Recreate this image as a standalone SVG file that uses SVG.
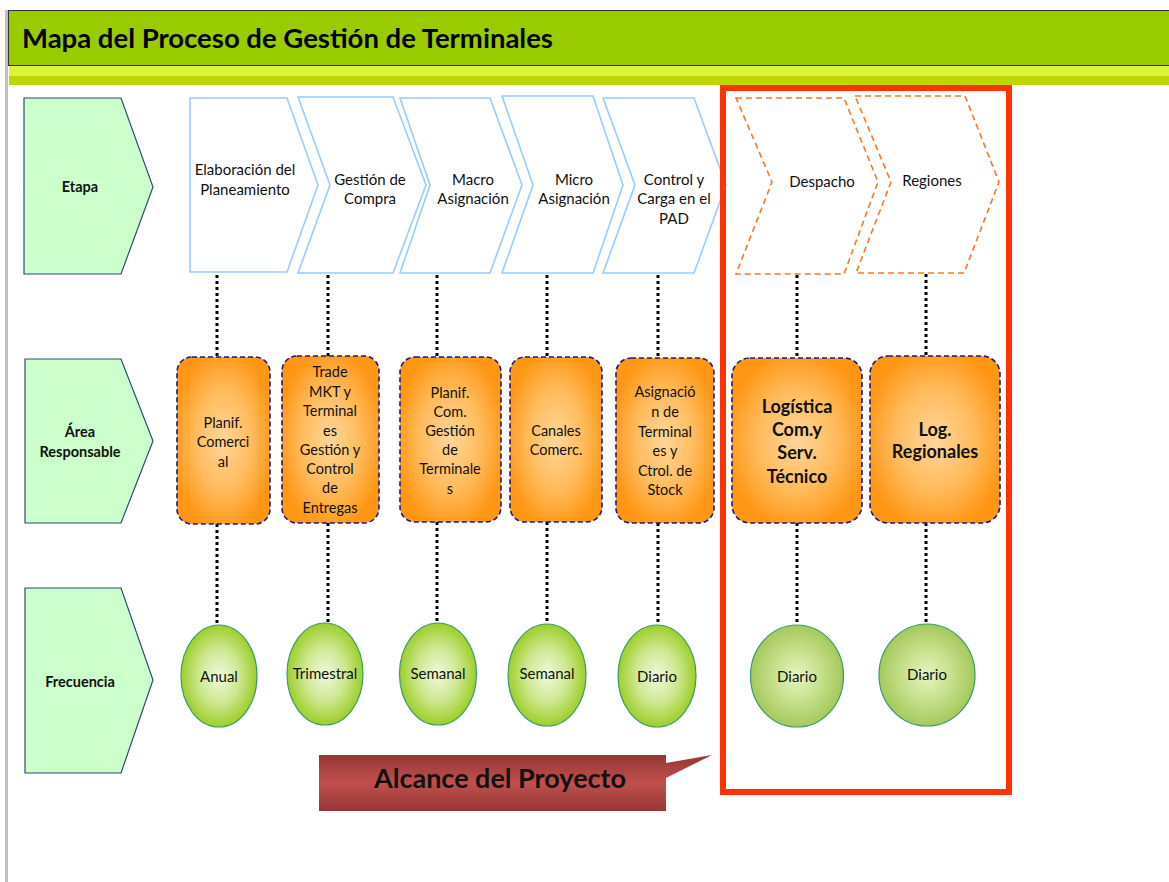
<svg xmlns="http://www.w3.org/2000/svg" width="1169" height="882" viewBox="0 0 1169 882">
<defs>
<style>
.t{font-family:Lato,"Liberation Sans",sans-serif;fill:#111;text-anchor:middle}
.s14{font-size:14.5px}
.c15{font-size:15px}
.b{font-weight:bold}
.lbl{fill:#ccffcc;stroke:#2f4a7a;stroke-width:1.2}
.blue{fill:#fff;stroke:#99ccff;stroke-width:1.6}
.odash{fill:#fff;stroke:#ff7722;stroke-width:1.6;stroke-dasharray:6 4}
.ob{fill:url(#og);stroke:#1a1a80;stroke-width:1.6;stroke-dasharray:5 3}
.ell{fill:url(#gg);stroke:#3a9a6a;stroke-width:1.2}
.ell2{fill:url(#gg2);stroke:#3a9a6a;stroke-width:1.2}
.dot{stroke:#000;stroke-width:3;stroke-dasharray:3 3;fill:none}
</style>
<radialGradient id="og" cx="50%" cy="50%" r="55%">
<stop offset="0" stop-color="#ffd699"/>
<stop offset="0.55" stop-color="#ffbb5c"/>
<stop offset="1" stop-color="#ff9614"/>
</radialGradient>
<radialGradient id="gg" cx="50%" cy="50%" r="52%">
<stop offset="0" stop-color="#f0f9dc"/>
<stop offset="0.5" stop-color="#cfe893"/>
<stop offset="1" stop-color="#99cc22"/>
</radialGradient>
<radialGradient id="gg2" cx="50%" cy="50%" r="52%">
<stop offset="0" stop-color="#e6f4c2"/>
<stop offset="0.5" stop-color="#c6e08a"/>
<stop offset="1" stop-color="#a2c65a"/>
</radialGradient>
<linearGradient id="rg" x1="0" y1="0" x2="0" y2="1">
<stop offset="0" stop-color="#943634"/>
<stop offset="0.5" stop-color="#c0504d"/>
<stop offset="1" stop-color="#943634"/>
</linearGradient>
</defs>
<rect x="0" y="0" width="1169" height="882" fill="#fff"/>

<g id="header">
<rect x="5" y="10" width="3" height="872" fill="#c0c0c0"/>
<rect x="8.5" y="10.5" width="1162" height="55" fill="#99cc00" stroke="#333" stroke-width="1"/>
<rect x="9" y="66" width="1160" height="10" fill="#dcf53c"/>
<rect x="9" y="76" width="1160" height="9" fill="#bdd600"/>
<text x="22" y="48" font-family="Lato,'Liberation Sans',sans-serif" font-size="27.5" font-weight="bold" fill="#000">Mapa del Proceso de Gestión de Terminales</text>
</g>

<g id="connectors">
<line class="dot" x1="217" y1="275" x2="217" y2="357"/>
<line class="dot" x1="217" y1="524" x2="217" y2="625"/>
<line class="dot" x1="328" y1="275" x2="328" y2="356"/>
<line class="dot" x1="328" y1="523" x2="328" y2="623"/>
<line class="dot" x1="437" y1="275" x2="437" y2="357"/>
<line class="dot" x1="437" y1="522" x2="437" y2="623"/>
<line class="dot" x1="547" y1="275" x2="547" y2="357"/>
<line class="dot" x1="547" y1="522" x2="547" y2="624"/>
<line class="dot" x1="658" y1="275" x2="658" y2="358"/>
<line class="dot" x1="658" y1="523" x2="658" y2="625"/>
<line class="dot" x1="797" y1="275" x2="797" y2="358"/>
<line class="dot" x1="797" y1="523" x2="797" y2="625"/>
<line class="dot" x1="926" y1="274" x2="926" y2="356"/>
<line class="dot" x1="926" y1="523" x2="926" y2="624"/>
</g>

<g id="lbl-etapa">
<polygon class="lbl" points="24,98 121,98 153,187 121,274 24,274"/>
<text class="t b" x="80" y="192" font-size="14.5">Etapa</text>
</g>
<g id="lbl-area">
<polygon class="lbl" points="25,359 121,359 153,441 121,523 25,523"/>
<text class="t b" x="80" y="437" font-size="14.5">Área</text>
<text class="t b" x="80" y="457" font-size="14.5">Responsable</text>
</g>
<g id="lbl-frecuencia">
<polygon class="lbl" points="25,588 121,588 153,680 121,773 25,773"/>
<text class="t b" x="80" y="687" font-size="14.5">Frecuencia</text>
</g>

<g id="etapa-elaboracion">
<polygon class="blue" points="190,98 287,98 318,185 287,272 190,272"/>
<text class="t c15" x="245" y="175">Elaboración del</text>
<text class="t c15" x="245" y="195">Planeamiento</text>
</g>
<g id="etapa-compra">
<polygon class="blue" points="298,97 393,97 426,185 393,273 298,273 330,185"/>
<text class="t c15" x="370" y="185">Gestión de</text>
<text class="t c15" x="370" y="204">Compra</text>
</g>
<g id="etapa-macro">
<polygon class="blue" points="400,98 490,98 522,185 490,273 400,273 430,185"/>
<text class="t c15" x="473" y="185">Macro</text>
<text class="t c15" x="473" y="204">Asignación</text>
</g>
<g id="etapa-micro">
<polygon class="blue" points="502,96 593,96 623,185 593,273 502,273 533,185"/>
<text class="t c15" x="574" y="185">Micro</text>
<text class="t c15" x="574" y="204">Asignación</text>
</g>
<g id="etapa-control">
<polygon class="blue" points="603,98 694,98 726,185 694,273 603,273 635,185"/>
<text class="t c15" x="674" y="185">Control y</text>
<text class="t c15" x="674" y="204">Carga en el</text>
<text class="t c15" x="674" y="224">PAD</text>
</g>
<g id="etapa-despacho">
<polygon class="odash" points="736,98 844,98 878,182 844,274 736,274 772,182"/>
<text class="t c15" x="822" y="187">Despacho</text>
</g>
<g id="etapa-regiones">
<polygon class="odash" points="855,96 965,96 999,182 964,273 856,273 891,182"/>
<text class="t c15" x="932" y="186">Regiones</text>
</g>

<g id="area-planif">
<rect class="ob" x="177" y="357" width="93" height="167" rx="15"/>
<text class="t s14" x="223" y="428">Planif.</text>
<text class="t s14" x="223" y="447">Comerci</text>
<text class="t s14" x="223" y="467">al</text>
</g>
<g id="area-trade">
<rect class="ob" x="282" y="356" width="97" height="167" rx="15"/>
<text class="t s14" x="330" y="377">Trade</text>
<text class="t s14" x="330" y="397">MKT y</text>
<text class="t s14" x="330" y="416">Terminal</text>
<text class="t s14" x="330" y="436">es</text>
<text class="t s14" x="330" y="455">Gestión y</text>
<text class="t s14" x="330" y="474">Control</text>
<text class="t s14" x="330" y="493">de</text>
<text class="t s14" x="330" y="513">Entregas</text>
</g>
<g id="area-planifcom">
<rect class="ob" x="400" y="357" width="101" height="165" rx="15"/>
<text class="t s14" x="450" y="398">Planif.</text>
<text class="t s14" x="450" y="417">Com.</text>
<text class="t s14" x="450" y="436">Gestión</text>
<text class="t s14" x="450" y="455">de</text>
<text class="t s14" x="450" y="474">Terminale</text>
<text class="t s14" x="450" y="494">s</text>
</g>
<g id="area-canales">
<rect class="ob" x="510" y="357" width="92" height="165" rx="15"/>
<text class="t s14" x="556" y="436">Canales</text>
<text class="t s14" x="556" y="455">Comerc.</text>
</g>
<g id="area-asignacion">
<rect class="ob" x="616" y="358" width="98" height="165" rx="15"/>
<text class="t s14" x="665" y="397">Asignació</text>
<text class="t s14" x="665" y="417">n de</text>
<text class="t s14" x="665" y="437">Terminal</text>
<text class="t s14" x="665" y="456">es y</text>
<text class="t s14" x="665" y="476">Ctrol. de</text>
<text class="t s14" x="665" y="495">Stock</text>
</g>
<g id="area-logistica">
<rect class="ob" x="732" y="358" width="130" height="165" rx="18"/>
<text class="t b" x="797" y="413" font-size="18">Logística</text>
<text class="t b" x="797" y="436" font-size="18">Com.y</text>
<text class="t b" x="797" y="459" font-size="18">Serv.</text>
<text class="t b" x="797" y="483" font-size="18">Técnico</text>
</g>
<g id="area-logreg">
<rect class="ob" x="870" y="356" width="130" height="167" rx="18"/>
<text class="t b" x="935" y="436" font-size="18">Log.</text>
<text class="t b" x="935" y="458" font-size="18">Regionales</text>
</g>

<g id="freq-anual">
<ellipse class="ell" cx="219" cy="676" rx="38" ry="51"/>
<text class="t c15" x="219" y="682">Anual</text>
</g>
<g id="freq-trimestral">
<ellipse class="ell" cx="325" cy="674" rx="38" ry="51"/>
<text class="t c15" x="325" y="679">Trimestral</text>
</g>
<g id="freq-semanal1">
<ellipse class="ell" cx="438" cy="674" rx="38.5" ry="51"/>
<text class="t c15" x="438" y="679">Semanal</text>
</g>
<g id="freq-semanal2">
<ellipse class="ell" cx="547" cy="675" rx="39" ry="51"/>
<text class="t c15" x="547" y="679">Semanal</text>
</g>
<g id="freq-diario1">
<ellipse class="ell" cx="657" cy="676" rx="39" ry="51"/>
<text class="t c15" x="657" y="682">Diario</text>
</g>
<g id="freq-diario2">
<ellipse class="ell2" cx="797" cy="676" rx="46.5" ry="51"/>
<text class="t c15" x="797" y="682">Diario</text>
</g>
<g id="freq-diario3">
<ellipse class="ell2" cx="927" cy="675" rx="48" ry="51"/>
<text class="t c15" x="927" y="680">Diario</text>
</g>

<g id="alcance-box">
<rect x="723" y="88" width="286" height="704" fill="none" stroke="#ff3300" stroke-width="6"/>
</g>

<g id="callout">
<path d="M319,755 H666 V763 L712,755 L666,778 V811 H319 Z" fill="url(#rg)"/>
<text class="t b" x="500" y="788" font-size="27" fill="#000">Alcance del Proyecto</text>
</g>
</svg>
